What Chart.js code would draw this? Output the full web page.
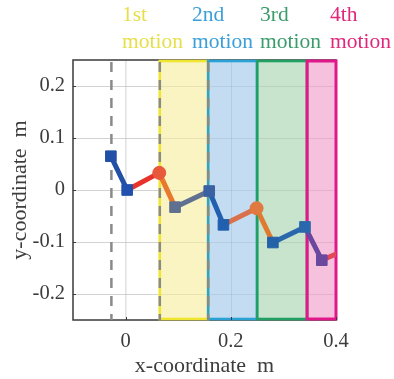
<!DOCTYPE html>
<html>
<head>
<meta charset="utf-8">
<script src="https://cdn.jsdelivr.net/npm/chart.js@4/dist/chart.umd.min.js"></script>
<style>
html,body{margin:0;padding:0;background:#fff;}
#wrap{width:394px;height:379px;position:relative;}
</style>
</head>
<body>
<div id="wrap"><canvas id="c"></canvas></div>
<script>
// ---- data ----
const xVals = [-0.028, 0.003, 0.064, 0.094, 0.159, 0.186, 0.249, 0.280, 0.341, 0.373, 0.400];
const yVals = [0.065, 0.000, 0.033, -0.033, -0.002, -0.067, -0.035, -0.101, -0.071, -0.135, -0.123];
const segColors = ['#2150a6', '#e8322a', '#e8782e', '#5f7090', '#2160ae', '#d9714c', '#e07a30', '#2a68ae', '#6a48a0', '#e24858'];
const pointColors = ['#2150a6', '#2150ae', '#e8583a', '#5f7090', '#3a62a2', '#2160ae', '#e07a40', '#2462a8', '#2a68ae', '#6a48a0', '#e24858'];
const pointShapes = ['rect', 'rect', 'circle', 'rect', 'rect', 'rect', 'circle', 'rect', 'rect', 'rect', 'rect'];
const pointSizes = [7.5, 7.5, 6.5, 7.5, 7.5, 7.5, 6.5, 7.5, 7.5, 7.5, 0];
const regionStarts = [0.065, 0.157, 0.250, 0.345];
const regionEnds = [0.157, 0.250, 0.345, 0.400];
const regionFills = ['#f9f4c2', '#c4dcf1', '#c8e4cd', '#f5c1dc'];
const regionEdges = ['#efe52e', '#2aa2d6', '#22a064', '#e0188a'];
const regionLine1 = ['1st', '2nd', '3rd', '4th'];
const regionLine2 = ['motion', 'motion', 'motion', 'motion'];
const labelColors = ['#e6df4a', '#3a9fd8', '#3a9c6a', '#e0287a'];
const labelLeft = [122, 192, 260, 330];
const dashedX = [-0.027, 0.065, 0.157];
const xTicks = [0, 0.2, 0.4];
const yTicks = [-0.2, -0.1, 0, 0.1, 0.2];

const FONT = "'Liberation Serif', 'Times New Roman', serif";

const overlay = {
  id: 'overlay',
  beforeDatasetsDraw(chart) {
    const {ctx, chartArea: a, scales: {x, y}} = chart;
    ctx.save();
    // axis box
    ctx.strokeStyle = '#3a3a3a';
    ctx.lineWidth = 1.5;
    ctx.strokeRect(a.left, a.top, a.right - a.left, a.bottom - a.top);
    // region fills
    for (let i = 0; i < regionStarts.length; i++) {
      const x0 = x.getPixelForValue(regionStarts[i]);
      const x1 = x.getPixelForValue(regionEnds[i]);
      ctx.fillStyle = regionFills[i];
      ctx.fillRect(x0, a.top, x1 - x0, a.bottom - a.top);
    }
    // grid lines over fills
    ctx.strokeStyle = 'rgba(0,0,0,0.07)';
    ctx.lineWidth = 1;
    for (const t of xTicks) {
      const px = Math.round(x.getPixelForValue(t)) + 0.5;
      ctx.beginPath(); ctx.moveTo(px, a.top); ctx.lineTo(px, a.bottom); ctx.stroke();
    }
    for (const t of yTicks) {
      const py = Math.round(y.getPixelForValue(t)) + 0.5;
      ctx.beginPath(); ctx.moveTo(a.left, py); ctx.lineTo(a.right, py); ctx.stroke();
    }
    // region edges
    for (let i = 0; i < regionStarts.length; i++) {
      const x0 = x.getPixelForValue(regionStarts[i]);
      const x1 = x.getPixelForValue(regionEnds[i]);
      ctx.strokeStyle = regionEdges[i];
      ctx.lineWidth = i === 3 ? 3 : 2.6;
      ctx.strokeRect(x0, a.top + 1, x1 - x0, a.bottom - a.top - 2);
    }
    // dashed vertical lines
    ctx.strokeStyle = '#8a8a8a';
    ctx.lineWidth = 2.5;
    ctx.setLineDash([10, 8]);
    for (const d of dashedX) {
      const px = x.getPixelForValue(d);
      ctx.beginPath(); ctx.moveTo(px, a.top + 2); ctx.lineTo(px, a.bottom); ctx.stroke();
    }
    ctx.setLineDash([]);
    // inward ticks
    ctx.strokeStyle = '#3a3a3a';
    ctx.lineWidth = 1;
    for (const t of xTicks) {
      const px = Math.round(x.getPixelForValue(t)) + 0.5;
      ctx.beginPath(); ctx.moveTo(px, a.bottom); ctx.lineTo(px, a.bottom - 3); ctx.stroke();
    }
    for (const t of yTicks) {
      const py = Math.round(y.getPixelForValue(t)) + 0.5;
      ctx.beginPath(); ctx.moveTo(a.left, py); ctx.lineTo(a.left + 3, py); ctx.stroke();
    }
    ctx.restore();
  },
  afterDraw(chart) {
    const {ctx} = chart;
    ctx.save();
    ctx.font = '21.5px ' + FONT;
    ctx.textAlign = 'left';
    ctx.textBaseline = 'middle';
    for (let i = 0; i < regionLine1.length; i++) {
      ctx.fillStyle = labelColors[i];
      ctx.fillText(regionLine1[i], labelLeft[i], 15);
      ctx.fillText(regionLine2[i], labelLeft[i], 42);
    }
    ctx.restore();
  }
};

new Chart(document.getElementById('c'), {
  type: 'scatter',
  data: {
    datasets: [{
      data: xVals.map((v, i) => ({x: v, y: yVals[i]})),
      showLine: true,
      borderWidth: 5,
      borderCapStyle: 'round',
      borderJoinStyle: 'round',
      segment: { borderColor: c => segColors[c.p0DataIndex] },
      pointStyle: pointShapes,
      pointRadius: pointSizes,
      pointBackgroundColor: pointColors,
      pointBorderColor: pointColors,
      pointBorderWidth: 1
    }]
  },
  options: {
    responsive: true,
    maintainAspectRatio: false,
    animation: false,
    events: [],
    layout: { padding: { top: 60, right: 58, left: 0, bottom: 0 } },
    plugins: { legend: { display: false }, tooltip: { enabled: false } },
    scales: {
      x: {
        type: 'linear', min: -0.1, max: 0.4,
        afterFit: s => { s.height = 59; },
        afterBuildTicks: s => { s.ticks = xTicks.map(v => ({value: v})); },
        grid: { color: '#e4e4e4', drawTicks: false },
        border: { display: false },
        ticks: { color: '#3c3c3c', padding: 9, font: { family: FONT, size: 20.5 }, callback: v => String(v) },
        title: { display: true, text: 'x-coordinate  m', color: '#3c3c3c', padding: { top: 0, bottom: 0 }, font: { family: FONT, size: 22 } }
      },
      y: {
        type: 'linear', min: -0.25, max: 0.25,
        afterFit: s => { s.width = 73; },
        afterBuildTicks: s => { s.ticks = yTicks.map(v => ({value: v})); },
        grid: { color: '#e4e4e4', drawTicks: false },
        border: { display: false },
        ticks: { color: '#3c3c3c', padding: 8, font: { family: FONT, size: 20.5 }, callback: v => String(v) },
        title: { display: true, text: 'y-coordinate  m', color: '#3c3c3c', padding: { top: 7, bottom: 0 }, font: { family: FONT, size: 22 } }
      }
    }
  },
  plugins: [overlay]
});
</script>
</body>
</html>
